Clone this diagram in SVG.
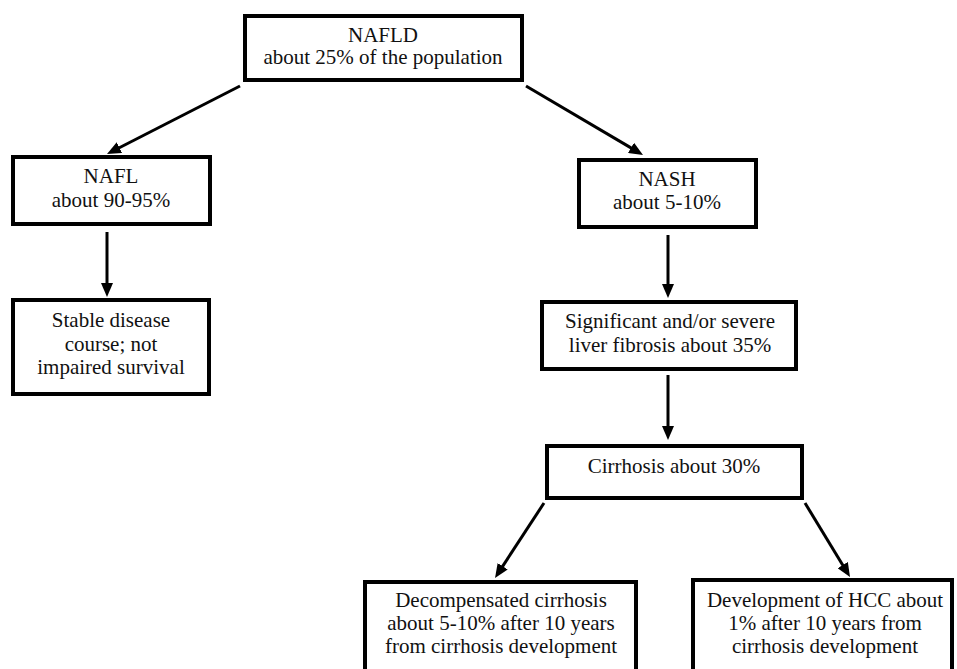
<svg xmlns="http://www.w3.org/2000/svg" width="957" height="669" viewBox="0 0 957 669">
<style>
.box{fill:#fff;stroke:#000;stroke-width:4}
.t{font-family:"Liberation Serif","Times New Roman",serif;font-size:21px;fill:#111;text-anchor:middle}
.c{stroke:#000;stroke-width:3;fill:none;marker-end:url(#ah)}
</style>
<defs>
<marker id="ah" markerUnits="userSpaceOnUse" markerWidth="14" markerHeight="12" viewBox="0 0 14 12" refX="4" refY="6" orient="auto">
<path d="M0,0 L14,6 L0,12 z" fill="#000"/>
</marker>
</defs>
<rect width="957" height="669" fill="#fff"/>
<g id="connectors">
<line class="c" x1="240" y1="86" x2="115.9" y2="149.5"/>
<line class="c" x1="526" y1="86" x2="634.4" y2="149.9"/>
<line class="c" x1="107" y1="232" x2="107" y2="287"/>
<line class="c" x1="668" y1="235" x2="668" y2="288"/>
<line class="c" x1="668" y1="375" x2="668" y2="430"/>
<line class="c" x1="544" y1="503" x2="500.5" y2="569.6"/>
<line class="c" x1="805" y1="503" x2="844.8" y2="568.5"/>
</g>
<g id="nafld">
<rect class="box" x="245" y="16" width="277" height="64"/>
<text class="t" x="383" y="42">NAFLD</text>
<text class="t" x="383" y="64">about 25% of the population</text>
</g>
<g id="nafl">
<rect class="box" x="13" y="157" width="197" height="67"/>
<text class="t" x="111" y="183">NAFL</text>
<text class="t" x="111" y="207">about 90-95%</text>
</g>
<g id="stable">
<rect class="box" x="13" y="300" width="196" height="94"/>
<text class="t" x="111" y="327">Stable disease</text>
<text class="t" x="111" y="351">course; not</text>
<text class="t" x="111" y="374">impaired survival</text>
</g>
<g id="nash">
<rect class="box" x="579" y="160" width="177" height="67"/>
<text class="t" x="667" y="186">NASH</text>
<text class="t" x="667" y="209">about 5-10%</text>
</g>
<g id="fibrosis">
<rect class="box" x="542" y="302" width="254" height="67"/>
<text class="t" x="670" y="328">Significant and/or severe</text>
<text class="t" x="670" y="352">liver fibrosis about 35%</text>
</g>
<g id="cirrhosis">
<rect class="box" x="547" y="446" width="255" height="52"/>
<text class="t" x="674" y="473">Cirrhosis about 30%</text>
</g>
<g id="decompensated">
<rect class="box" x="365" y="582" width="271" height="100"/>
<text class="t" x="501" y="607">Decompensated cirrhosis</text>
<text class="t" x="501" y="630">about 5-10% after 10 years</text>
<text class="t" x="501" y="653">from cirrhosis development</text>
</g>
<g id="hcc">
<rect class="box" x="693" y="580" width="259" height="100"/>
<text class="t" x="825" y="607">Development of HCC about</text>
<text class="t" x="825" y="630">1% after 10 years from</text>
<text class="t" x="825" y="653">cirrhosis development</text>
</g>
</svg>
